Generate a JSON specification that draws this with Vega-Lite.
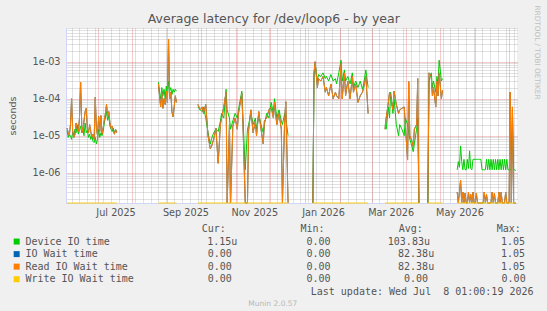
{
"$schema":"https://vega.github.io/schema/vega-lite/v6.json",
"background":"#f0f0f0",
"padding":{"left":7,"top":5,"right":8,"bottom":4},
"title":{"text":"Average latency for /dev/loop6 - by year","font":"DejaVu Sans","fontSize":12.5,"fontWeight":"normal","color":"#555555","anchor":"middle","baseline":"alphabetic","offset":-30.3},
"bounds":"flush",
"spacing":20,
"config":{"view":{"stroke":null}},
"datasets":{
"lat":[
{"t":"2025-06-04","g":1.4e-5,"o":1.6e-5,"w":0},
{"t":"2025-06-05","g":9e-6,"o":1.2e-5,"w":0},
{"t":"2025-06-06","g":1.1e-5,"o":1.0e-5,"w":0},
{"t":"2025-06-07","g":1.0e-5,"o":2.0e-5,"w":0},
{"t":"2025-06-08","g":8e-6,"o":1.0e-4,"w":0},
{"t":"2025-06-09","g":1.3e-5,"o":1.2e-5,"w":0},
{"t":"2025-06-10","g":1.0e-5,"o":9e-6,"w":0},
{"t":"2025-06-11","g":1.5e-5,"o":1.1e-5,"w":0},
{"t":"2025-06-12","g":1.2e-5,"o":2.2e-5,"w":0},
{"t":"2025-06-13","g":2.0e-5,"o":1.5e-5,"w":0},
{"t":"2025-06-14","g":1.1e-5,"o":1.3e-5,"w":0},
{"t":"2025-06-15","g":1.4e-5,"o":3.0e-5,"w":0},
{"t":"2025-06-16","g":1.8e-5,"o":2.8e-4,"w":0},
{"t":"2025-06-17","g":1.2e-5,"o":2.0e-5,"w":0},
{"t":"2025-06-18","g":1.5e-5,"o":1.2e-5,"w":0},
{"t":"2025-06-19","g":1.0e-5,"o":2.5e-5,"w":0},
{"t":"2025-06-20","g":2.2e-5,"o":4.5e-5,"w":0},
{"t":"2025-06-21","g":1.2e-5,"o":5.5e-5,"w":0},
{"t":"2025-06-22","g":1.4e-5,"o":1.5e-5,"w":0},
{"t":"2025-06-23","g":9e-6,"o":1.2e-5,"w":0},
{"t":"2025-06-24","g":1.1e-5,"o":2.0e-5,"w":0},
{"t":"2025-06-25","g":8e-6,"o":1.3e-5,"w":0},
{"t":"2025-06-26","g":1.0e-5,"o":9e-6,"w":0},
{"t":"2025-06-27","g":7e-6,"o":1.1e-5,"w":0},
{"t":"2025-06-28","g":6.5e-6,"o":8e-6,"w":0},
{"t":"2025-06-29","g":9e-6,"o":1.1e-4,"w":0},
{"t":"2025-06-30","g":6e-6,"o":1.6e-5,"w":0},
{"t":"2025-07-01","g":8e-6,"o":1.0e-5,"w":0},
{"t":"2025-07-02","g":1.5e-5,"o":3.3e-5,"w":0},
{"t":"2025-07-03","g":9e-6,"o":1.3e-5,"w":0},
{"t":"2025-07-04","g":1.2e-5,"o":3.5e-5,"w":0},
{"t":"2025-07-05","g":1.0e-5,"o":1.1e-5,"w":0},
{"t":"2025-07-06","g":1.3e-5,"o":1.6e-5,"w":0},
{"t":"2025-07-07","g":2.2e-5,"o":2.6e-5,"w":0},
{"t":"2025-07-08","g":3.0e-5,"o":4.0e-5,"w":0},
{"t":"2025-07-09","g":4.5e-5,"o":7.0e-5,"w":0},
{"t":"2025-07-10","g":2.6e-5,"o":3.2e-5,"w":0},
{"t":"2025-07-11","g":3.4e-5,"o":4.5e-5,"w":0},
{"t":"2025-07-12","g":1.8e-5,"o":2.2e-5,"w":0},
{"t":"2025-07-13","g":1.5e-5,"o":1.6e-5,"w":0},
{"t":"2025-07-14","g":1.3e-5,"o":1.8e-5,"w":0},
{"t":"2025-07-15","g":1.6e-5,"o":1.4e-5,"w":0},
{"t":"2025-07-16","g":1.2e-5,"o":1.1e-5,"w":0},
{"t":"2025-07-17","g":1.4e-5,"o":1.5e-5,"w":0},
{"t":"2025-07-18","g":1.3e-5,"o":1.2e-5,"w":0},
{"t":"2025-08-02","g":null,"o":null,"w":null},
{"t":"2025-08-24","g":2.8e-4,"o":2.5e-4,"w":0},
{"t":"2025-08-25","g":1.5e-4,"o":1.2e-4,"w":0},
{"t":"2025-08-26","g":1.0e-4,"o":6e-5,"w":0},
{"t":"2025-08-27","g":2.0e-4,"o":1.5e-4,"w":0},
{"t":"2025-08-28","g":1.2e-4,"o":5.5e-5,"w":0},
{"t":"2025-08-29","g":1.8e-4,"o":1.0e-4,"w":0},
{"t":"2025-08-30","g":1.0e-4,"o":7e-5,"w":0},
{"t":"2025-08-31","g":2.2e-4,"o":1.6e-4,"w":0},
{"t":"2025-09-01","g":1.2e-4,"o":8e-5,"w":0},
{"t":"2025-09-02","g":3.0e-4,"o":4.1e-3,"w":0},
{"t":"2025-09-03","g":1.6e-4,"o":1.0e-4,"w":0},
{"t":"2025-09-04","g":2.0e-4,"o":1.5e-4,"w":0},
{"t":"2025-09-05","g":1.3e-4,"o":4.5e-5,"w":0},
{"t":"2025-09-06","g":1.8e-4,"o":3.2e-5,"w":0},
{"t":"2025-09-07","g":1.5e-4,"o":6e-5,"w":0},
{"t":"2025-09-08","g":1.8e-4,"o":1.2e-4,"w":0},
{"t":"2025-09-09","g":1.6e-4,"o":8e-5,"w":0},
{"t":"2025-09-16","g":null,"o":null,"w":null},
{"t":"2025-09-28","g":6e-5,"o":7e-5,"w":0},
{"t":"2025-09-30","g":5e-5,"o":5e-5,"w":0},
{"t":"2025-10-02","g":4.5e-5,"o":6e-5,"w":0},
{"t":"2025-10-03","g":6e-5,"o":4e-5,"w":0},
{"t":"2025-10-05","g":3e-5,"o":7e-5,"w":0},
{"t":"2025-10-07","g":1.2e-5,"o":1.0e-5,"w":0},
{"t":"2025-10-09","g":6e-6,"o":4.5e-6,"w":0},
{"t":"2025-10-10","g":8e-6,"o":5e-6,"w":0},
{"t":"2025-10-12","g":1.2e-5,"o":8e-6,"w":0},
{"t":"2025-10-14","g":1.5e-5,"o":1.6e-5,"w":0},
{"t":"2025-10-16","g":1.3e-5,"o":1.8e-6,"w":0},
{"t":"2025-10-18","g":2.5e-5,"o":2e-5,"w":0},
{"t":"2025-10-19","g":4e-5,"o":3e-5,"w":0},
{"t":"2025-10-21","g":3e-5,"o":6e-5,"w":0},
{"t":"2025-10-23","g":1.8e-4,"o":1.5e-4,"w":0},
{"t":"2025-10-24","g":5e-5,"o":0,"w":0},
{"t":"2025-10-26","g":3e-5,"o":2e-5,"w":0},
{"t":"2025-10-27","g":1.5e-5,"o":0,"w":0},
{"t":"2025-10-29","g":2.5e-5,"o":1.8e-5,"w":0},
{"t":"2025-10-31","g":4e-5,"o":3e-5,"w":0},
{"t":"2025-11-02","g":3e-5,"o":1.5e-5,"w":0},
{"t":"2025-11-03","g":5e-5,"o":4e-5,"w":0},
{"t":"2025-11-06","g":1.6e-4,"o":1.4e-4,"w":0},
{"t":"2025-11-07","g":3e-5,"o":2e-5,"w":0},
{"t":"2025-11-09","g":1.2e-6,"o":0,"w":0},
{"t":"2025-11-11","g":1.5e-5,"o":0,"w":0},
{"t":"2025-11-12","g":2e-5,"o":1.4e-5,"w":0},
{"t":"2025-11-14","g":4e-5,"o":5e-5,"w":0},
{"t":"2025-11-16","g":2e-5,"o":1.2e-5,"w":0},
{"t":"2025-11-18","g":3e-5,"o":2.5e-5,"w":0},
{"t":"2025-11-19","g":1.5e-5,"o":1e-5,"w":0},
{"t":"2025-11-21","g":3.5e-5,"o":4.5e-5,"w":0},
{"t":"2025-11-23","g":2e-5,"o":1.5e-5,"w":0},
{"t":"2025-11-25","g":1.2e-5,"o":6e-6,"w":0},
{"t":"2025-11-26","g":2e-5,"o":2.5e-5,"w":0},
{"t":"2025-11-28","g":4e-5,"o":3e-5,"w":0},
{"t":"2025-11-30","g":3e-5,"o":5e-5,"w":0},
{"t":"2025-12-02","g":8e-5,"o":6e-5,"w":0},
{"t":"2025-12-04","g":4e-5,"o":3e-5,"w":0},
{"t":"2025-12-05","g":1.0e-4,"o":8e-5,"w":0},
{"t":"2025-12-07","g":3e-5,"o":2e-5,"w":0},
{"t":"2025-12-09","g":5e-5,"o":4e-5,"w":0},
{"t":"2025-12-11","g":2.5e-5,"o":1.5e-5,"w":0},
{"t":"2025-12-12","g":2e-5,"o":0,"w":0},
{"t":"2025-12-14","g":4e-5,"o":3e-5,"w":0},
{"t":"2025-12-15","g":3e-5,"o":8.3e-5,"w":0},
{"t":"2025-12-17","g":1e-5,"o":0,"w":0},
{"t":"2025-12-25","g":null,"o":null,"w":null},
{"t":"2026-01-08","g":0,"o":0,"w":0},
{"t":"2026-01-09","g":4e-4,"o":5e-4,"w":0},
{"t":"2026-01-10","g":9e-4,"o":1.0e-3,"w":0},
{"t":"2026-01-12","g":3e-4,"o":2e-4,"w":0},
{"t":"2026-01-13","g":4.5e-4,"o":3.5e-4,"w":0},
{"t":"2026-01-15","g":4e-4,"o":3e-4,"w":0},
{"t":"2026-01-17","g":5e-4,"o":4e-4,"w":0},
{"t":"2026-01-19","g":3.5e-4,"o":1.5e-4,"w":0},
{"t":"2026-01-20","g":4e-4,"o":2e-4,"w":0},
{"t":"2026-01-22","g":3e-4,"o":1.2e-4,"w":0},
{"t":"2026-01-24","g":4.5e-4,"o":2.5e-4,"w":0},
{"t":"2026-01-26","g":3e-4,"o":1.0e-4,"w":0},
{"t":"2026-01-28","g":3.5e-4,"o":1.5e-4,"w":0},
{"t":"2026-01-29","g":2.5e-4,"o":1.2e-4,"w":0},
{"t":"2026-01-31","g":5e-4,"o":1.0e-4,"w":0},
{"t":"2026-02-02","g":1.1e-3,"o":9e-4,"w":0},
{"t":"2026-02-03","g":3e-4,"o":1.0e-4,"w":0},
{"t":"2026-02-05","g":6e-4,"o":5e-4,"w":0},
{"t":"2026-02-06","g":3e-4,"o":1.2e-4,"w":0},
{"t":"2026-02-08","g":4e-4,"o":3e-4,"w":0},
{"t":"2026-02-10","g":2.5e-4,"o":1.0e-4,"w":0},
{"t":"2026-02-12","g":5e-4,"o":4e-4,"w":0},
{"t":"2026-02-13","g":2e-4,"o":1.5e-4,"w":0},
{"t":"2026-02-15","g":3e-4,"o":2.5e-4,"w":0},
{"t":"2026-02-17","g":2e-4,"o":8e-5,"w":0},
{"t":"2026-02-19","g":3e-4,"o":1.2e-4,"w":0},
{"t":"2026-02-21","g":1.8e-4,"o":1.5e-4,"w":0},
{"t":"2026-02-22","g":2.5e-4,"o":2e-4,"w":0},
{"t":"2026-02-24","g":6e-4,"o":4e-4,"w":0},
{"t":"2026-02-26","g":2e-4,"o":4e-5,"w":0},
{"t":"2026-03-05","g":null,"o":null,"w":null},
{"t":"2026-03-13","g":2e-5,"o":1.5e-5,"w":0},
{"t":"2026-03-14","g":1.5e-5,"o":3e-5,"w":0},
{"t":"2026-03-16","g":6e-5,"o":8e-5,"w":0},
{"t":"2026-03-17","g":3e-5,"o":1.5e-4,"w":0},
{"t":"2026-03-18","g":1.5e-4,"o":1.2e-4,"w":0},
{"t":"2026-03-20","g":4e-5,"o":5e-5,"w":0},
{"t":"2026-03-21","g":1e-4,"o":1.6e-4,"w":0},
{"t":"2026-03-23","g":2e-5,"o":7e-5,"w":0},
{"t":"2026-03-25","g":1e-5,"o":4e-5,"w":0},
{"t":"2026-03-26","g":2e-5,"o":5e-5,"w":0},
{"t":"2026-03-28","g":1.5e-5,"o":5.5e-5,"w":0},
{"t":"2026-03-30","g":1.0e-5,"o":6e-5,"w":0},
{"t":"2026-03-31","g":3e-5,"o":2e-5,"w":0},
{"t":"2026-04-02","g":2e-5,"o":2.2e-6,"w":0},
{"t":"2026-04-03","g":1.2e-5,"o":2.9e-4,"w":0},
{"t":"2026-04-04","g":8e-6,"o":1e-5,"w":0},
{"t":"2026-04-06","g":5e-6,"o":7e-6,"w":0},
{"t":"2026-04-07","g":3.7e-6,"o":5e-6,"w":0},
{"t":"2026-04-08","g":6e-6,"o":1.5e-5,"w":0},
{"t":"2026-04-10","g":1.5e-5,"o":2e-5,"w":0},
{"t":"2026-04-11","g":3e-5,"o":3.5e-4,"w":0},
{"t":"2026-04-12","g":0,"o":0,"w":0},
{"t":"2026-04-16","g":null,"o":null,"w":null},
{"t":"2026-04-20","g":0,"o":0,"w":0},
{"t":"2026-04-21","g":3e-4,"o":5e-4,"w":0},
{"t":"2026-04-23","g":5e-4,"o":4e-4,"w":0},
{"t":"2026-04-24","g":2e-4,"o":1.2e-4,"w":0},
{"t":"2026-04-25","g":3e-4,"o":2e-4,"w":0},
{"t":"2026-04-27","g":1.5e-4,"o":6e-5,"w":0},
{"t":"2026-04-28","g":4e-4,"o":3e-4,"w":0},
{"t":"2026-04-29","g":2.5e-4,"o":1.2e-4,"w":0},
{"t":"2026-04-30","g":1.1e-3,"o":5e-4,"w":0},
{"t":"2026-05-02","g":3e-4,"o":1.0e-4,"w":0},
{"t":"2026-05-03","g":3.5e-4,"o":1.7e-4,"w":0},
{"t":"2026-05-09","g":null,"o":null,"w":null},
{"t":"2026-05-16","g":1.2e-6,"o":3e-7,"w":0},
{"t":"2026-05-17","g":2.0e-6,"o":0,"w":0},
{"t":"2026-05-18","g":1.4e-6,"o":3e-7,"w":0},
{"t":"2026-05-19","g":5.3e-6,"o":6.3e-7,"w":0},
{"t":"2026-05-20","g":2.0e-6,"o":0,"w":0},
{"t":"2026-05-21","g":1.2e-6,"o":3e-7,"w":0},
{"t":"2026-05-22","g":2.3e-6,"o":0,"w":0},
{"t":"2026-05-23","g":1.2e-6,"o":2.8e-7,"w":0},
{"t":"2026-05-24","g":1.2e-6,"o":0,"w":0},
{"t":"2026-05-25","g":2.3e-6,"o":0,"w":0},
{"t":"2026-05-26","g":1.3e-6,"o":3e-7,"w":0},
{"t":"2026-05-27","g":3.9e-6,"o":0,"w":0},
{"t":"2026-05-28","g":1.3e-6,"o":2.6e-7,"w":0},
{"t":"2026-05-29","g":1.2e-6,"o":0,"w":0},
{"t":"2026-05-30","g":2.3e-6,"o":3e-7,"w":0},
{"t":"2026-05-31","g":2.3e-6,"o":0,"w":0},
{"t":"2026-06-01","g":2.3e-6,"o":0,"w":0},
{"t":"2026-06-02","g":2.3e-6,"o":2.8e-7,"w":0},
{"t":"2026-06-03","g":2.3e-6,"o":0,"w":0},
{"t":"2026-06-04","g":2.3e-6,"o":0,"w":0},
{"t":"2026-06-05","g":2.3e-6,"o":0,"w":0},
{"t":"2026-06-06","g":2.3e-6,"o":0,"w":0},
{"t":"2026-06-07","g":1.2e-6,"o":0,"w":0},
{"t":"2026-06-08","g":1.2e-6,"o":0,"w":0},
{"t":"2026-06-09","g":1.2e-6,"o":3e-7,"w":0},
{"t":"2026-06-10","g":1.2e-6,"o":0,"w":0},
{"t":"2026-06-11","g":2.3e-6,"o":2.6e-7,"w":0},
{"t":"2026-06-12","g":1.2e-6,"o":0,"w":0},
{"t":"2026-06-13","g":2.3e-6,"o":0,"w":0},
{"t":"2026-06-14","g":1.2e-6,"o":0,"w":0},
{"t":"2026-06-15","g":2.3e-6,"o":0,"w":0},
{"t":"2026-06-16","g":1.2e-6,"o":3e-7,"w":0},
{"t":"2026-06-17","g":2.3e-6,"o":0,"w":0},
{"t":"2026-06-18","g":1.2e-6,"o":2.8e-7,"w":0},
{"t":"2026-06-19","g":2.3e-6,"o":0,"w":0},
{"t":"2026-06-20","g":1.2e-6,"o":0,"w":0},
{"t":"2026-06-21","g":2.3e-6,"o":0,"w":0},
{"t":"2026-06-22","g":1.2e-6,"o":3e-7,"w":0},
{"t":"2026-06-23","g":2.3e-6,"o":0,"w":0},
{"t":"2026-06-24","g":1.2e-6,"o":3e-7,"w":0},
{"t":"2026-06-25","g":2.3e-6,"o":0,"w":0},
{"t":"2026-06-26","g":1.2e-6,"o":0,"w":0},
{"t":"2026-06-27","g":2.3e-6,"o":0,"w":0},
{"t":"2026-06-28","g":1.2e-6,"o":3e-7,"w":0},
{"t":"2026-06-29","g":2.3e-6,"o":0,"w":0},
{"t":"2026-06-30","g":1.2e-6,"o":0,"w":0},
{"t":"2026-07-01","g":1.2e-6,"o":0,"w":0},
{"t":"2026-07-02","g":1.2e-6,"o":1.5e-4,"w":0},
{"t":"2026-07-03","g":1.2e-6,"o":0,"w":0},
{"t":"2026-07-04","g":5e-5,"o":6e-5,"w":0},
{"t":"2026-07-05","g":1.2e-6,"o":0,"w":0},
{"t":"2026-07-06","g":1.2e-6,"o":0,"w":0},
{"t":"2026-07-07","g":1.15e-6,"o":0,"w":0}
],
"leg":[
{"line":0,"col":29.3,"text":"Cur:"},{"line":0,"col":45.7,"text":"Min:"},{"line":0,"col":62.0,"text":"Avg:"},{"line":0,"col":78.3,"text":"Max:"},
{"line":1,"col":0,"text":"Device IO time"},{"line":1,"col":30.2,"text":"1.15u"},{"line":1,"col":46.7,"text":"0.00"},{"line":1,"col":60.2,"text":"103.83u"},{"line":1,"col":79.0,"text":"1.05"},
{"line":2,"col":0,"text":"IO Wait time"},{"line":2,"col":30.3,"text":"0.00"},{"line":2,"col":46.7,"text":"0.00"},{"line":2,"col":61.9,"text":"82.38u"},{"line":2,"col":79.0,"text":"1.05"},
{"line":3,"col":0,"text":"Read IO Wait time"},{"line":3,"col":30.3,"text":"0.00"},{"line":3,"col":46.7,"text":"0.00"},{"line":3,"col":61.9,"text":"82.38u"},{"line":3,"col":79.0,"text":"1.05"},
{"line":4,"col":0,"text":"Write IO Wait time"},{"line":4,"col":30.3,"text":"0.00"},{"line":4,"col":46.7,"text":"0.00"},{"line":4,"col":62.9,"text":"0.00"},{"line":4,"col":79.1,"text":"0.00"},
{"line":5,"col":47.4,"text":"Last update: Wed Jul \u00a08 01:00:19 2026"}
],
"sq":[
{"line":1,"s":"Device IO time"},{"line":2,"s":"IO Wait time"},{"line":3,"s":"Read IO Wait time"},{"line":4,"s":"Write IO Wait time"}
]
},
"vconcat":[
{
"width":451,"height":175,
"view":{"fill":"#ffffff","stroke":null},
"data":{"name":"lat"},
"layer":[
{"mark":{"type":"line","color":"#00cc00","strokeWidth":1,"invalid":"break-paths-show-domains"},
 "encoding":{
  "x":{"field":"t","type":"temporal","scale":{"domain":[{"year":2025,"month":6,"date":3,"hours":1,"utc":true},{"year":2026,"month":7,"date":8,"hours":1,"utc":true}]},
   "axis":{"orient":"bottom","labels":false,"ticks":false,"domain":false,"title":null,"grid":true,"tickCount":{"interval":"week","step":1},"gridColor":"#9a9a9a","gridOpacity":0.6,"gridDash":[1,1]}},
  "y":{"field":"g","type":"quantitative","scale":{"type":"log","domain":[1.52e-7,8.14e-3],"clamp":true,"nice":false},
   "axis":{"orient":"left","labels":false,"ticks":false,"domain":false,"title":null,"grid":true,"values":[2e-7,3e-7,4e-7,5e-7,6e-7,7e-7,8e-7,9e-7,2e-6,3e-6,4e-6,5e-6,6e-6,7e-6,8e-6,9e-6,2e-5,3e-5,4e-5,5e-5,6e-5,7e-5,8e-5,9e-5,2e-4,3e-4,4e-4,5e-4,6e-4,7e-4,8e-4,9e-4,2e-3,3e-3,4e-3,5e-3,6e-3,7e-3,8e-3],"gridColor":"#9a9a9a","gridOpacity":0.6,"gridDash":[1,1]}}
 }},
{"mark":{"type":"line","color":"#0066b3","strokeWidth":1,"invalid":"break-paths-show-domains"},
 "encoding":{
  "x":{"field":"t","type":"temporal","scale":{"domain":[{"year":2025,"month":6,"date":3,"hours":1,"utc":true},{"year":2026,"month":7,"date":8,"hours":1,"utc":true}]},
   "axis":{"orient":"bottom","labels":false,"ticks":false,"domain":false,"title":null,"grid":true,"tickCount":{"interval":"month","step":1},"gridColor":"#de4f4f","gridOpacity":0.6,"gridDash":[1,1]}},
  "y":{"field":"o","type":"quantitative","scale":{"type":"log","domain":[1.52e-7,8.14e-3],"clamp":true,"nice":false},
   "axis":{"orient":"left","values":[1e-6,1e-5,1e-4,1e-3],"grid":true,"gridColor":"#de4f4f","gridOpacity":0.6,"gridDash":[1,1],"ticks":false,"domain":true,"domainColor":"#cfd6f8","labelExpr":"'1e-0' + round(-log(datum.value)/LN10)","labelFont":"DejaVu Sans","labelFontSize":9.7,"labelColor":"#555555","labelPadding":6,"labelFlush":false,"title":"seconds","titleFont":"DejaVu Sans","titleFontSize":9.5,"titleFontWeight":"normal","titleColor":"#555555","titlePadding":15}}
 }},
{"mark":{"type":"line","color":"#ff8000","strokeWidth":1,"invalid":"break-paths-show-domains"},
 "encoding":{
  "x":{"field":"t","type":"temporal","scale":{"domain":[{"year":2025,"month":6,"date":3,"hours":1,"utc":true},{"year":2026,"month":7,"date":8,"hours":1,"utc":true}]},
   "axis":{"orient":"bottom","values":[{"year":2025,"month":7,"date":17,"utc":true},{"year":2025,"month":9,"date":17,"utc":true},{"year":2025,"month":11,"date":17,"utc":true},{"year":2026,"month":1,"date":17,"utc":true},{"year":2026,"month":3,"date":18,"utc":true},{"year":2026,"month":5,"date":18,"utc":true}],"labelExpr":"utcFormat(datum.value, '%b %Y')","grid":false,"ticks":false,"domain":true,"domainColor":"#cfd6f8","labelFont":"DejaVu Sans","labelFontSize":9.7,"labelColor":"#555555","labelPadding":4,"labelFlush":false,"labelOverlap":false,"title":null}},
  "y":{"field":"o","type":"quantitative","scale":{"type":"log","domain":[1.52e-7,8.14e-3],"clamp":true,"nice":false},
   "axis":{"orient":"right","labels":false,"ticks":false,"domain":false,"grid":false,"title":"RRDTOOL / TOBI OETIKER","titleAngle":90,"titleX":19.5,"titleY":-23,"titleAlign":"left","titleBaseline":"middle","titleFont":"DejaVu Sans","titleFontSize":7.3,"titleFontWeight":"normal","titleColor":"#c0c0c0"}}
 }},
{"mark":{"type":"line","color":"#ffcc00","strokeWidth":1,"invalid":"break-paths-show-domains"},
 "encoding":{
  "x":{"field":"t","type":"temporal","scale":{"domain":[{"year":2025,"month":6,"date":3,"hours":1,"utc":true},{"year":2026,"month":7,"date":8,"hours":1,"utc":true}]},"axis":null},
  "y":{"field":"w","type":"quantitative","scale":{"type":"log","domain":[1.52e-7,8.14e-3],"clamp":true,"nice":false},"axis":null}
 }}
],
"resolve":{"axis":{"x":"independent","y":"independent"}}
},
{
"width":451,"height":85,
"view":{"stroke":null},
"layer":[
{"data":{"name":"sq"},"mark":{"type":"square","size":36,"opacity":1,"filled":true},
 "encoding":{
  "x":{"datum":-1.45,"type":"quantitative","scale":{"domain":[0,80],"range":[-40.6,441],"nice":false,"zero":false},"axis":null},
  "y":{"field":"line","type":"quantitative","scale":{"domain":[0,6],"range":[6,81.3],"nice":false,"zero":false},"axis":null},
  "color":{"field":"s","type":"nominal","scale":{"domain":["Device IO time","IO Wait time","Read IO Wait time","Write IO Wait time"],"range":["#00cc00","#0066b3","#ff8000","#ffcc00"]},"legend":null}
 }},
{"data":{"name":"leg"},"mark":{"type":"text","align":"left","baseline":"middle","font":"DejaVu Sans Mono","fontSize":10,"color":"#555555"},
 "encoding":{
  "x":{"field":"col","type":"quantitative","scale":{"domain":[0,80],"range":[-40.6,441],"nice":false,"zero":false},"axis":null},
  "y":{"field":"line","type":"quantitative","scale":{"domain":[0,6],"range":[6,81.3],"nice":false,"zero":false},"axis":null},
  "text":{"field":"text"}
 }},
{"data":{"values":[{"line":6,"col":41.1,"text":"Munin 2.0.57"}]},"mark":{"type":"text","align":"center","baseline":"middle","font":"DejaVu Sans","fontSize":7.5,"color":"#b8b8b8"},
 "encoding":{
  "x":{"field":"col","type":"quantitative","scale":{"domain":[0,80],"range":[-40.6,441],"nice":false,"zero":false},"axis":null},
  "y":{"field":"line","type":"quantitative","scale":{"domain":[0,6],"range":[6,81.3],"nice":false,"zero":false},"axis":null},
  "text":{"field":"text"}
 }}
]
}
]
}
